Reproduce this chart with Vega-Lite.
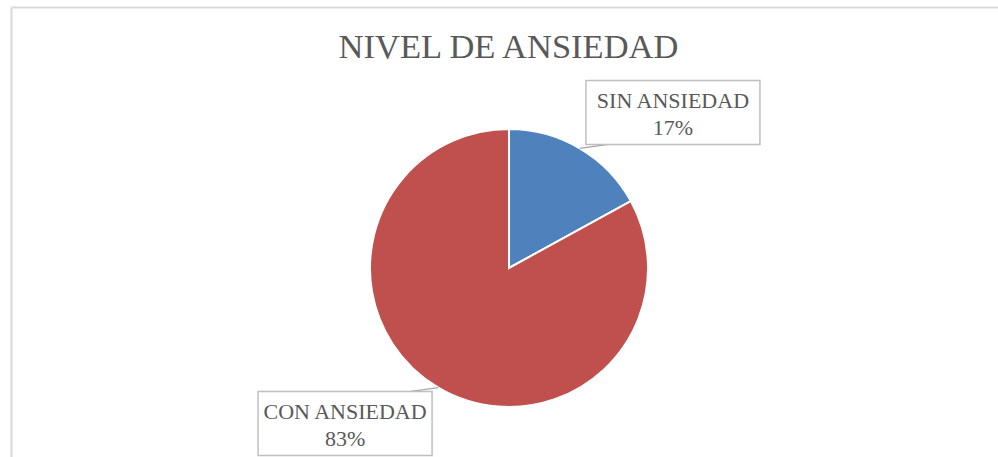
{
  "$schema": "https://vega.github.io/schema/vega-lite/v6.json",
  "width": 987,
  "height": 450,
  "autosize": {"type": "none"},
  "padding": {"left": 11, "top": 7, "right": 0, "bottom": 0},
  "background": "white",
  "view": {"stroke": null},
  "title": {
    "text": "NIVEL DE ANSIEDAD",
    "font": "Liberation Serif",
    "fontSize": 34.5,
    "fontWeight": "normal",
    "color": "#595959",
    "anchor": "middle",
    "frame": "group",
    "baseline": "alphabetic",
    "offset": -53,
    "dx": 4,
    "dy": 32
  },
  "config": {
    "axis": {"domainColor": "#d9d9d9", "domainWidth": 2, "ticks": false, "labels": false, "grid": false, "title": null}
  },
  "data": {
    "values": [
      {"category": "SIN ANSIEDAD", "value": 17, "ord": 1},
      {"category": "CON ANSIEDAD", "value": 83, "ord": 2}
    ]
  },
  "transform": [
    {"joinaggregate": [{"op": "sum", "field": "value", "as": "total"}]},
    {"window": [{"op": "sum", "field": "value", "as": "cum"}], "sort": [{"field": "ord"}], "frame": [null, 0]},
    {"calculate": "2*PI*(datum.cum - datum.value/2)/datum.total", "as": "mid"},
    {"calculate": "datum.mid + 0.2775", "as": "la"},
    {"calculate": "226*sin(datum.la)", "as": "lx"},
    {"calculate": "226*cos(datum.la)", "as": "ly"},
    {"calculate": "139*sin(datum.mid)", "as": "px"},
    {"calculate": "139*cos(datum.mid)", "as": "py"},
    {"calculate": "datum.lx + (datum.lx > 0 ? -57 : 57)", "as": "ex"},
    {"calculate": "datum.ly + (datum.ly > 0 ? -31 : 31)", "as": "ey"},
    {"calculate": "datum.lx - 87", "as": "bx1"},
    {"calculate": "datum.lx + 87", "as": "bx2"},
    {"calculate": "datum.ly - 32", "as": "by1"},
    {"calculate": "datum.ly + 32", "as": "by2"},
    {"calculate": "datum.category + '\\n' + format(datum.value/datum.total, '.0%')", "as": "label"}
  ],
  "layer": [
    {
      "mark": {"type": "arc", "outerRadius": 139, "stroke": "white", "strokeWidth": 2},
      "encoding": {
        "x": {"datum": 0, "type": "quantitative", "scale": {"domain": [-498, 489], "nice": false, "zero": false}, "axis": {"orient": "top"}},
        "y": {"datum": 0, "type": "quantitative", "scale": {"domain": [-189, 261], "nice": false, "zero": false}, "axis": {"orient": "left"}},
        "theta": {"field": "value", "type": "quantitative", "stack": true},
        "order": {"field": "ord", "type": "quantitative"},
        "color": {"field": "category", "type": "nominal", "scale": {"domain": ["SIN ANSIEDAD", "CON ANSIEDAD"], "range": ["#4F81BD", "#C0504D"]}, "legend": null}
      }
    },
    {
      "mark": {"type": "rule", "color": "#a6a6a6", "strokeWidth": 1.3},
      "encoding": {
        "x": {"field": "px", "type": "quantitative", "axis": {"orient": "top"}},
        "y": {"field": "py", "type": "quantitative", "axis": {"orient": "left"}},
        "x2": {"field": "ex"},
        "y2": {"field": "ey"}
      }
    },
    {
      "mark": {"type": "rect", "fill": "white", "stroke": "#bfbfbf", "strokeWidth": 1.5},
      "encoding": {
        "x": {"field": "bx1", "type": "quantitative", "axis": {"orient": "top"}},
        "x2": {"field": "bx2"},
        "y": {"field": "by1", "type": "quantitative", "axis": {"orient": "left"}},
        "y2": {"field": "by2"}
      }
    },
    {
      "mark": {"type": "text", "font": "Liberation Serif", "fontSize": 22, "color": "#595959", "align": "center", "baseline": "middle", "lineBreak": "\n", "lineHeight": 27, "dy": -11.5},
      "encoding": {
        "x": {"field": "lx", "type": "quantitative", "axis": {"orient": "top"}},
        "y": {"field": "ly", "type": "quantitative", "axis": {"orient": "left"}},
        "text": {"field": "label"}
      }
    }
  ]
}
